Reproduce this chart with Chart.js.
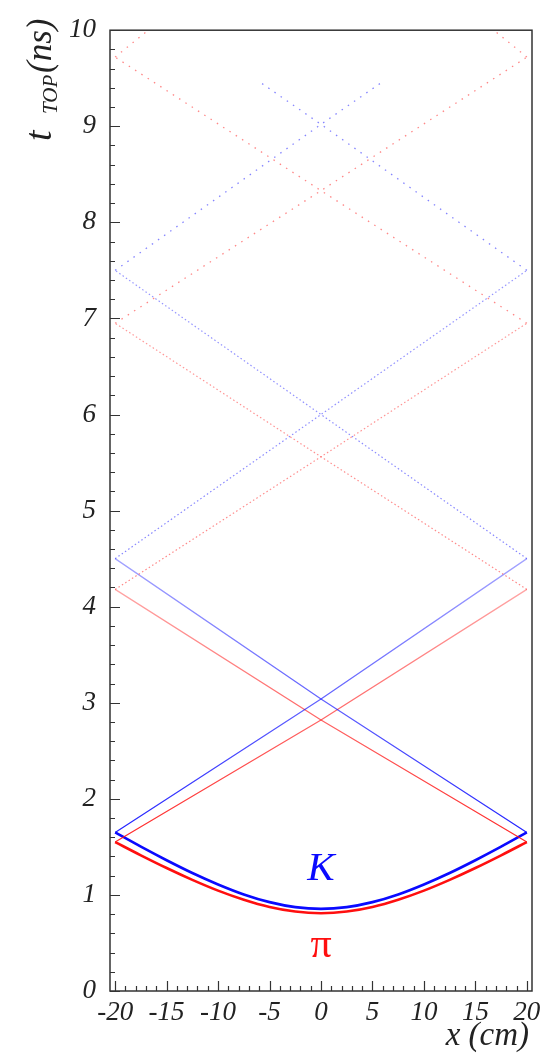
<!DOCTYPE html>
<html>
<head>
<meta charset="utf-8">
<script src="https://cdn.jsdelivr.net/npm/chart.js@4/dist/chart.umd.min.js"></script>
<style>
  html, body { margin: 0; padding: 0; background: #ffffff; }
  #wrap { width: 557px; height: 1055px; }
</style>
</head>
<body>
<div id="wrap"><canvas id="c" width="557" height="1055"></canvas></div>
<script>
// ---------------- DATA ----------------
const xTickValues = [-20, -15, -10, -5, 0, 5, 10, 15, 20];
const yTickValues = [0, 1, 2, 3, 4, 5, 6, 7, 8, 9, 10];

// direct-light curves (bottom hyperbolas)
const directX  = [-20, -17.5, -15, -12.5, -10, -7.5, -5, -2.5, 0, 2.5, 5, 7.5, 10, 12.5, 15, 17.5, 20];
const kDirectT = [1.650, 1.502, 1.361, 1.228, 1.109, 1.005, 0.925, 0.873, 0.855, 0.873, 0.925, 1.005, 1.109, 1.228, 1.361, 1.502, 1.650];
const piDirectT = [1.550, 1.412, 1.280, 1.157, 1.045, 0.950, 0.875, 0.827, 0.810, 0.827, 0.875, 0.950, 1.045, 1.157, 1.280, 1.412, 1.550];

// reflected paths (left-to-right and right-to-left)
const reflXLR = [-20, 0, 20];
const reflXRL = [20, 0, -20];
const kRefl1T = [1.65, 3.04, 4.50];
const kRefl2T = [4.50, 6.00, 7.50];
const kRefl3XLR = [-20, 0, 5.8];
const kRefl3XRL = [20, 0, -5.8];
const kRefl3T = [7.50, 9.02, 9.45];
const piRefl1T = [1.55, 2.82, 4.18];
const piRefl2T = [4.18, 5.56, 6.95];
const piRefl3T = [6.95, 8.33, 9.72];
const piRefl4XL = [-20, -16.8];
const piRefl4XR = [20, 16.8];
const piRefl4T = [9.72, 10.0];

// ---------------- helpers ----------------
const BLUE = [10, 10, 255];
const RED = [255, 15, 15];
function pts(xs, ys) { return xs.map((x, i) => ({ x: x, y: ys[i] })); }
function rgba(c, a) { return 'rgba(' + c[0] + ',' + c[1] + ',' + c[2] + ',' + a + ')'; }
function fade(c, aLow, aHigh, yLow, yHigh) {
  return function (ctx) {
    const chart = ctx.chart;
    if (!chart.chartArea || !chart.scales.y) return rgba(c, (aLow + aHigh) / 2);
    const y = chart.scales.y;
    const p0 = y.getPixelForValue(yLow), p1 = y.getPixelForValue(yHigh);
    const g = chart.ctx.createLinearGradient(0, p0, 0, p1);
    g.addColorStop(0, rgba(c, aLow));
    g.addColorStop(1, rgba(c, aHigh));
    return g;
  };
}
function line(data, color, width, dash, extra) {
  return Object.assign({
    data: data, showLine: true, borderColor: color, borderWidth: width,
    borderDash: dash || [], pointRadius: 0, pointHoverRadius: 0, fill: false, tension: 0
  }, extra || {});
}

const datasets = [
  // third / fourth reflections (sparse dots)
  line(pts(kRefl3XLR, kRefl3T), rgba(BLUE, 0.5), 1.3, [1.5, 6]),
  line(pts(kRefl3XRL, kRefl3T), rgba(BLUE, 0.5), 1.3, [1.5, 6]),
  line(pts(reflXLR, piRefl3T), rgba(RED, 0.5), 1.3, [1.5, 6]),
  line(pts(reflXRL, piRefl3T), rgba(RED, 0.5), 1.3, [1.5, 6]),
  line(pts(piRefl4XL, piRefl4T), rgba(RED, 0.5), 1.3, [1.5, 6]),
  line(pts(piRefl4XR, piRefl4T), rgba(RED, 0.5), 1.3, [1.5, 6]),
  // second reflections (dense dots)
  line(pts(reflXLR, kRefl2T), fade(BLUE, 0.5, 0.42, 4.5, 7.5), 1.2, [1.5, 2.5]),
  line(pts(reflXRL, kRefl2T), fade(BLUE, 0.5, 0.42, 4.5, 7.5), 1.2, [1.5, 2.5]),
  line(pts(reflXLR, piRefl2T), fade(RED, 0.5, 0.42, 4.2, 7.0), 1.2, [1.5, 2.5]),
  line(pts(reflXRL, piRefl2T), fade(RED, 0.5, 0.42, 4.2, 7.0), 1.2, [1.5, 2.5]),
  // first reflections (solid, fading)
  line(pts(reflXLR, kRefl1T), fade(BLUE, 0.9, 0.35, 1.6, 4.6), 1.25),
  line(pts(reflXRL, kRefl1T), fade(BLUE, 0.9, 0.35, 1.6, 4.6), 1.25),
  line(pts(reflXLR, piRefl1T), fade(RED, 0.9, 0.35, 1.5, 4.3), 1.25),
  line(pts(reflXRL, piRefl1T), fade(RED, 0.9, 0.35, 1.5, 4.3), 1.25),
  // direct light
  line(pts(directX, piDirectT), rgba(RED, 1), 2.6, [], { cubicInterpolationMode: 'monotone' }),
  line(pts(directX, kDirectT), rgba(BLUE, 1), 2.6, [], { cubicInterpolationMode: 'monotone' })
];

const SERIF = '"Liberation Serif", "DejaVu Serif", serif';

const framePlugin = {
  id: 'frame',
  afterDraw(chart) {
    const c = chart.ctx, a = chart.chartArea, xs = chart.scales.x, ys = chart.scales.y;
    c.save();
    // frame
    c.strokeStyle = '#333';
    c.lineWidth = 1.5;
    c.strokeRect(a.left, a.top, a.right - a.left, a.bottom - a.top);
    // y ticks (inward)
    c.lineWidth = 1.2;
    c.beginPath();
    for (let i = 0; i <= 50; i++) {
      const v = i * 0.2;
      const p = Math.round(ys.getPixelForValue(v)) + 0.5;
      const len = (i % 5 === 0) ? 10 : 5;
      c.moveTo(a.left, p); c.lineTo(a.left + len, p);
    }
    // x ticks (inward)
    for (let v = -20; v <= 20; v++) {
      const p = Math.round(xs.getPixelForValue(v)) + 0.5;
      const len = (v % 5 === 0) ? 10 : 5;
      c.moveTo(p, a.bottom); c.lineTo(p, a.bottom - len);
    }
    c.stroke();

    // K and pi labels
    c.textAlign = 'center';
    c.textBaseline = 'alphabetic';
    c.fillStyle = 'rgb(10,10,255)';
    c.font = 'italic 41px ' + SERIF;
    c.fillText('K', xs.getPixelForValue(0), ys.getPixelForValue(1.16));
    c.fillStyle = 'rgb(255,15,15)';
    c.font = '42px ' + SERIF;
    c.fillText('\u03C0', xs.getPixelForValue(0), ys.getPixelForValue(0.35));

    // x axis title
    c.fillStyle = '#222';
    c.textAlign = 'right';
    c.font = 'italic 33px ' + SERIF;
    c.fillText('x (cm)', 529, 1045);

    // y axis title (rotated)
    c.save();
    c.translate(51, 145);
    c.rotate(-Math.PI / 2);
    c.textAlign = 'left';
    c.font = 'italic 38px ' + SERIF;
    c.fillText('t', 4, 0);
    c.font = 'italic 21px ' + SERIF;
    c.fillText('TOP', 31, 6);
    c.font = 'italic 35px ' + SERIF;
    c.fillText('(ns)', 72, 0);
    c.restore();
    c.restore();
  }
};

new Chart(document.getElementById('c'), {
  type: 'scatter',
  data: { datasets: datasets },
  options: {
    responsive: false,
    animation: false,
    devicePixelRatio: 1,
    layout: { padding: { top: 16, right: 25, left: 0, bottom: 0 } },
    plugins: { legend: { display: false }, tooltip: { enabled: false }, title: { display: false } },
    scales: {
      x: {
        type: 'linear', min: -20.5, max: 20.5,
        grid: { display: false, drawTicks: false },
        border: { display: false },
        afterBuildTicks: (s) => { s.ticks = xTickValues.map(v => ({ value: v })); },
        afterFit: (s) => { s.height = 64; },
        ticks: {
          autoSkip: false, maxRotation: 0, padding: 6, color: '#222',
          font: { family: SERIF, size: 27, style: 'italic' },
          callback: (v) => String(v)
        }
      },
      y: {
        type: 'linear', min: 0, max: 10,
        grid: { display: false, drawTicks: false },
        border: { display: false },
        afterBuildTicks: (s) => { s.ticks = yTickValues.map(v => ({ value: v })); },
        afterFit: (s) => { s.width = 110; },
        ticks: {
          autoSkip: false, padding: 14, color: '#222',
          font: { family: SERIF, size: 27, style: 'italic' },
          callback: (v) => String(v)
        }
      }
    }
  },
  plugins: [framePlugin]
});
</script>
</body>
</html>
